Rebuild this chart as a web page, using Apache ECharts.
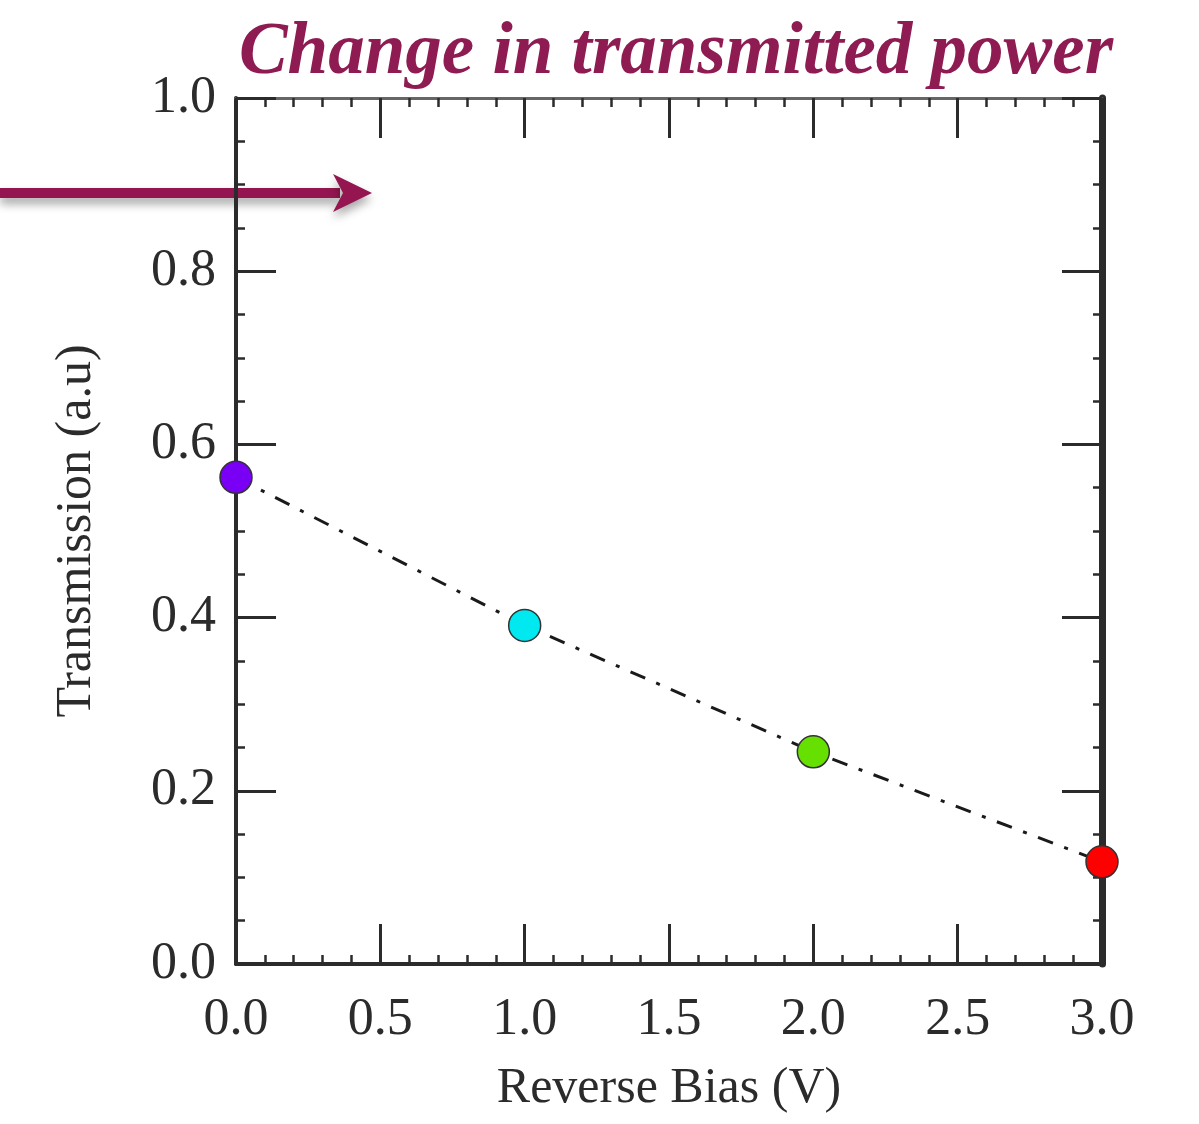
<!DOCTYPE html>
<html>
<head>
<meta charset="utf-8">
<script src="https://cdn.jsdelivr.net/npm/echarts@6/dist/echarts.min.js"></script>
<style>
  html, body { margin: 0; padding: 0; background: #fff; }
  #chart { width: 1199px; height: 1124px; }
</style>
</head>
<body>
<div id="chart"></div>
<script>
// data
const biasV = [0.0, 1.0, 2.0, 3.0];
const transmission = [0.562, 0.391, 0.245, 0.118];
const pointColors = ["#7a00f5", "#00e8f0", "#66e000", "#ff0000"];

const serif = "Liberation Serif";
const ink = "#2b2b2b";

var myChart = echarts.init(document.getElementById("chart"));

const majorTick = { show: true, inside: true, length: 40, lineStyle: { color: ink, width: 3 } };
const minorX = { show: true, splitNumber: 5, length: 9, lineStyle: { color: ink, width: 2.5 } };
const minorY = { show: true, splitNumber: 4, length: 9, lineStyle: { color: ink, width: 2.5 } };

const option = {
  backgroundColor: "#fff",
  animation: false,
  title: {
    text: "Change in transmitted power",
    left: 671,
    top: 13,
    textAlign: "center",
    textStyle: {
      fontFamily: serif,
      fontStyle: "italic",
      fontWeight: "bold",
      fontSize: 73,
      color: "#8e1b52",
    },
  },
  grid: { left: 236, right: 97, top: 98, bottom: 160 },
  xAxis: [
    {
      type: "value",
      min: 0,
      max: 3,
      interval: 0.5,
      position: "bottom",
      name: "Reverse Bias (V)",
      nameLocation: "middle",
      nameGap: 100,
      nameTextStyle: { fontFamily: serif, fontSize: 50, color: ink },
      axisLine: { show: true, onZero: false, lineStyle: { color: ink, width: 4 } },
      axisLabel: {
        fontFamily: serif,
        fontSize: 52,
        color: ink,
        margin: 30,
        formatter: (v) => v.toFixed(1),
      },
      axisTick: majorTick,
      minorTick: minorX,
      splitLine: { show: false },
    },
    {
      type: "value",
      min: 0,
      max: 3,
      interval: 0.5,
      position: "top",
      axisLine: { show: true, onZero: false, lineStyle: { color: "#666", width: 3 } },
      axisLabel: { show: false },
      axisTick: majorTick,
      minorTick: minorX,
      splitLine: { show: false },
    },
  ],
  yAxis: [
    {
      type: "value",
      min: 0,
      max: 1,
      interval: 0.2,
      position: "left",
      name: "Transmission (a.u)",
      nameLocation: "middle",
      nameGap: 134,
      nameTextStyle: { fontFamily: serif, fontSize: 50, color: ink },
      axisLine: { show: true, onZero: false, lineStyle: { color: ink, width: 4 } },
      axisLabel: {
        fontFamily: serif,
        fontSize: 52,
        color: ink,
        margin: 20,
        formatter: (v) => v.toFixed(1),
      },
      axisTick: majorTick,
      minorTick: minorY,
      splitLine: { show: false },
    },
    {
      type: "value",
      min: 0,
      max: 1,
      interval: 0.2,
      position: "right",
      axisLine: { show: true, onZero: false, lineStyle: { color: ink, width: 7 } },
      axisLabel: { show: false },
      axisTick: majorTick,
      minorTick: minorY,
      splitLine: { show: false },
    },
  ],
  series: [
    {
      type: "line",
      xAxisIndex: 0,
      yAxisIndex: 0,
      data: biasV.map((x, i) => ({
        value: [x, transmission[i]],
        itemStyle: { color: pointColors[i] },
      })),
      symbol: "circle",
      symbolSize: 32,
      lineStyle: { color: "#1a1a1a", width: 3, type: [16, 12, 4, 12] },
      itemStyle: { borderColor: "#333", borderWidth: 1.5 },
      clip: false,
      z: 5,
    },
  ],
  graphic: [
    {
      // the pointing arrow at the left edge
      type: "group",
      left: 0,
      top: 174,
      silent: true,
      children: [
        {
          type: "rect",
          shape: { x: 0, y: 14, width: 340, height: 10 },
          style: {
            fill: "#951550",
            shadowBlur: 10,
            shadowOffsetY: 6,
            shadowColor: "rgba(0,0,0,0.35)",
          },
        },
        {
          type: "polygon",
          shape: { points: [[333, 0], [372, 19], [333, 38], [343, 19]] },
          style: {
            fill: "#951550",
            shadowBlur: 10,
            shadowOffsetY: 6,
            shadowColor: "rgba(0,0,0,0.35)",
          },
        },
      ],
    },
  ],
};

myChart.setOption(option);
window.addEventListener("resize", () => {
  myChart.resize();
});
</script>
</body>
</html>
